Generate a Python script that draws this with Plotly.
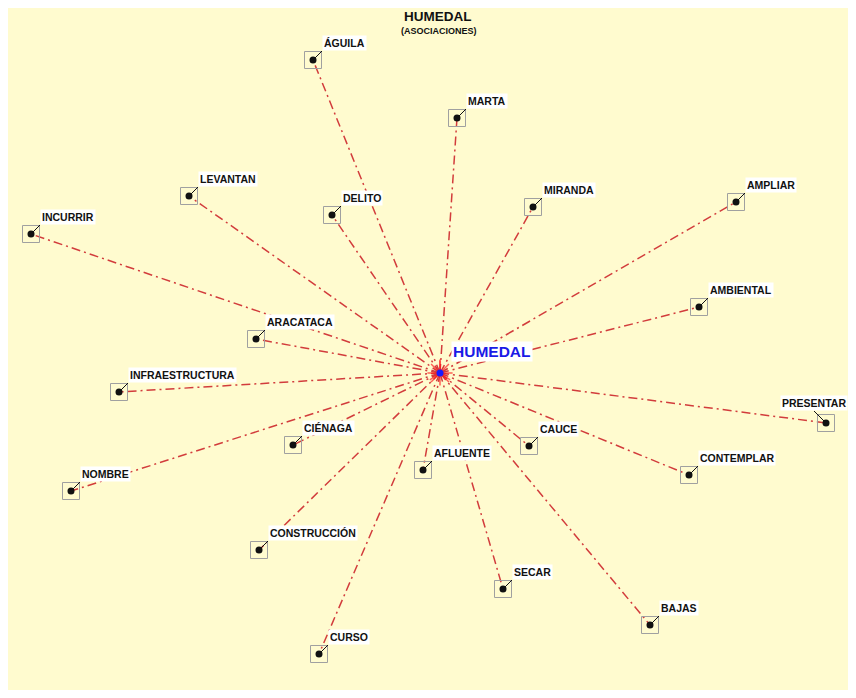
import plotly.graph_objects as go

center_word = "HUMEDAL"
center_x, center_y = 440, 373

words = ["ÁGUILA", "MARTA", "LEVANTAN", "DELITO", "MIRANDA", "AMPLIAR", "INCURRIR",
         "AMBIENTAL", "ARACATACA", "INFRAESTRUCTURA", "PRESENTAR", "CIÉNAGA", "CAUCE",
         "AFLUENTE", "CONTEMPLAR", "NOMBRE", "CONSTRUCCIÓN", "SECAR", "BAJAS", "CURSO"]
node_x = [313, 457, 189, 332, 533, 736, 31, 699, 256, 119, 826, 293, 529, 423, 689, 71, 259, 503, 650, 319]
node_y = [60, 118, 196, 215, 207, 202, 234, 307, 339, 392, 423, 445, 446, 470, 475, 491, 550, 589, 625, 654]

line_color = "#d23c3c"
font_family = "Liberation Sans, Arial"

fig = go.Figure()

# spokes from the centre word to each association
for x, y in zip(node_x, node_y):
    fig.add_trace(go.Scatter(
        x=[center_x, x], y=[center_y, y], mode="lines",
        line=dict(color=line_color, width=1.5, dash="9px,4px,2px,4px"),
        hoverinfo="skip", showlegend=False))

# node boxes and dots
fig.add_trace(go.Scatter(
    x=node_x, y=node_y, mode="markers",
    marker=dict(symbol="square-open", size=17, color="#a0a0a0", line=dict(width=1)),
    hoverinfo="skip", showlegend=False))
fig.add_trace(go.Scatter(
    x=node_x, y=node_y, mode="markers", text=words,
    marker=dict(symbol="circle", size=7, color="#111111"),
    hovertemplate="%{text}<extra></extra>", showlegend=False))

# centre burst
fig.add_trace(go.Scatter(
    x=[center_x, center_x], y=[center_y, center_y], mode="markers",
    marker=dict(symbol=["asterisk-open", "y-up-open"], size=[21, 17], color="#ff2020",
                line=dict(color="#ff2020", width=1.5)),
    hoverinfo="skip", showlegend=False))
fig.add_trace(go.Scatter(
    x=[center_x], y=[center_y], mode="markers",
    marker=dict(symbol="circle", size=7, color="#1a1aff"),
    hoverinfo="skip", showlegend=False))

for w, x, y in zip(words, node_x, node_y):
    if w == "PRESENTAR":
        ax, ay, anchor = x - 12, y - 12, "center"
    else:
        ax, ay, anchor = x + 9, y - 9, "left"
    fig.add_annotation(x=x, y=y, ax=ax, ay=ay, axref="x", ayref="y",
                       text="<b>%s</b>" % w, xanchor=anchor, yanchor="bottom",
                       showarrow=True, arrowhead=0, arrowwidth=1, arrowcolor="#111111",
                       bgcolor="white", borderpad=1,
                       font=dict(family=font_family, size=10.5, color="#111111"))

fig.add_annotation(x=451, y=362, text="<b>%s</b>" % center_word, showarrow=False,
                   xanchor="left", yanchor="bottom", bgcolor="white", borderpad=1,
                   font=dict(family=font_family, size=15.5, color="#1a1ae6"))

fig.add_annotation(x=438, y=16, text="<b>HUMEDAL</b>", showarrow=False,
                   font=dict(family=font_family, size=13.5, color="#111111"))
fig.add_annotation(x=439, y=31, text="<b>(ASOCIACIONES)</b>", showarrow=False,
                   font=dict(family=font_family, size=9, color="#111111"))

fig.add_shape(type="rect", x0=6, y0=8, x1=870, y1=710, layer="below",
              fillcolor="#fffbcf", line=dict(width=0))

# the page body adds an 8px margin, so the axes start at screen pixel 8
fig.update_layout(
    width=840, height=682, margin=dict(l=0, r=0, t=0, b=0),
    paper_bgcolor="white", plot_bgcolor="white",
    xaxis=dict(range=[8, 848], visible=False, fixedrange=True),
    yaxis=dict(range=[690, 8], visible=False, fixedrange=True),
)

fig.write_html("out.html")
